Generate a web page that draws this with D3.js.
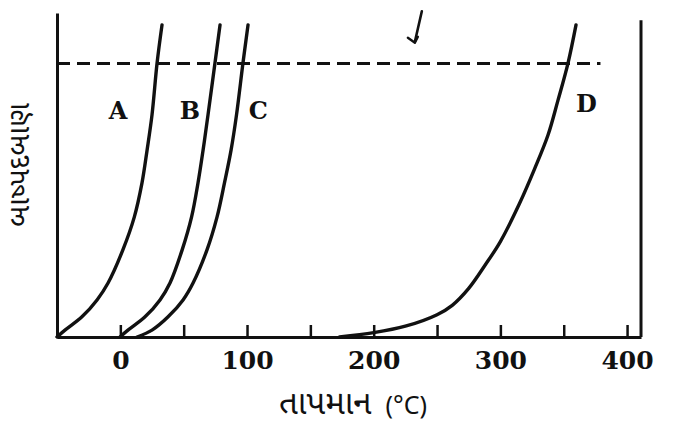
<!DOCTYPE html>
<html>
<head>
<meta charset="utf-8">
<script src="https://cdn.jsdelivr.net/npm/d3@7"></script>
<style>
  html, body { margin: 0; padding: 0; background: #fff; }
  svg { display: block; }
</style>
</head>
<body>
<svg id="chart" width="673" height="428"></svg>
<script>
// ---- data (temperature °C, vapour pressure in mm Hg) ----
const tempA = [-50, -43.7, -30.3, -18.4, -9.7, 2.0, 11.0, 17.1, 21.1, 25.0, 29.0, 32.9];
const presA = [0, 19, 56, 103, 150, 242, 333, 428, 519, 617, 761, 867];
const tempB = [-0.3, 6.0, 19.5, 31.3, 39.2, 48.8, 56.2, 61.3, 65.3, 69.2, 74.7, 78.7];
const presB = [0, 19, 56, 103, 150, 242, 333, 428, 519, 617, 761, 867];
const tempC = [13.2, 25.0, 37.7, 49.5, 57.4, 68.4, 76.3, 82.2, 87.4, 91.7, 96.8, 100.8];
const presC = [0, 19, 56, 103, 150, 242, 333, 428, 519, 617, 761, 867];
const tempD = [173, 200, 225, 250, 262, 275, 288, 300, 315, 327, 337.6, 345.5, 353.4, 359.7];
const presD = [0, 12, 30, 62, 88, 135, 200, 265, 370, 467, 561, 658, 761, 867];
const curveNames = ["A", "B", "C", "D"];
const xTicks = [0, 50, 100, 150, 200, 250, 300, 350, 400];
const xTickLabels = ["0", "", "100", "", "200", "", "300", "", "400"];
const atmPressure = 760;
const xTitleMain = "તાપમાન";
const xTitleUnit = "(°C)";
const yTitle = "બાષ્પદબાણ";

const series = [
  { name: curveNames[0], t: tempA, p: presA, lx: -1.8, ly: 630 },
  { name: curveNames[1], t: tempB, p: presB, lx: 55,   ly: 630 },
  { name: curveNames[2], t: tempC, p: presC, lx: 109,  ly: 630 },
  { name: curveNames[3], t: tempD, p: presD, lx: 368,  ly: 650 }
];

const svg = d3.select("#chart");
const x = d3.scaleLinear().domain([-50, 411]).range([57, 641]);
const y = d3.scaleLinear().domain([0, 900]).range([337, 13]);

const ink = "#111";

// bottom axis with inward ticks
const xAxis = d3.axisBottom(x)
  .tickValues(xTicks)
  .tickFormat((d, i) => xTickLabels[i])
  .tickSizeInner(-12)
  .tickSizeOuter(0)
  .tickPadding(14);
const gx = svg.append("g").attr("transform", `translate(0,${y(0)})`).call(xAxis);
gx.select(".domain").attr("stroke", ink).attr("stroke-width", 3);
gx.selectAll(".tick line").attr("stroke", ink).attr("stroke-width", 2.5);
gx.selectAll(".tick text")
  .attr("fill", ink)
  .style("font-family", "'DejaVu Serif', serif")
  .style("font-weight", "bold")
  .style("font-size", "25px");

// left axis (line only)
const yAxis = d3.axisLeft(y).tickValues([]).tickSizeOuter(0);
const gy = svg.append("g").attr("transform", `translate(${x(-50)},0)`).call(yAxis);
gy.select(".domain").attr("stroke", ink).attr("stroke-width", 3);

// right frame line
svg.append("line")
  .attr("x1", x(411)).attr("x2", x(411))
  .attr("y1", y(880)).attr("y2", y(0))
  .attr("stroke", ink).attr("stroke-width", 3);

// dashed 1 atm line
svg.append("line")
  .attr("x1", x(-50)).attr("x2", x(379))
  .attr("y1", y(atmPressure)).attr("y2", y(atmPressure))
  .attr("stroke", ink).attr("stroke-width", 3)
  .attr("stroke-dasharray", "13,7");

// curves
const line = d3.line()
  .x(d => x(d[0]))
  .y(d => y(d[1]))
  .curve(d3.curveCatmullRom.alpha(0.5));

series.forEach(s => {
  const pts = s.t.map((t, i) => [t, s.p[i]]);
  svg.append("path")
    .datum(pts)
    .attr("d", line)
    .attr("fill", "none")
    .attr("stroke", ink)
    .attr("stroke-width", 3.4)
    .attr("stroke-linecap", "round");
  svg.append("text")
    .attr("x", x(s.lx))
    .attr("y", y(s.ly))
    .attr("text-anchor", "middle")
    .attr("dominant-baseline", "central")
    .attr("fill", ink)
    .style("font-family", "'DejaVu Serif', serif")
    .style("font-weight", "bold")
    .style("font-size", "24px")
    .text(s.name);
});

// arrow pointing down to the dashed line (label above is cut off)
const ax = x(238), ay = y(905), bx = x(232.5), by = y(820);
svg.append("line")
  .attr("x1", ax).attr("y1", ay).attr("x2", bx).attr("y2", by)
  .attr("stroke", ink).attr("stroke-width", 2.6).attr("stroke-linecap", "round");
svg.append("path")
  .attr("d", `M${bx - 7},${by - 4} L${bx},${by + 1} L${bx + 3},${by - 5}`)
  .attr("fill", "none").attr("stroke", ink).attr("stroke-width", 2.4)
  .attr("stroke-linejoin", "round").attr("stroke-linecap", "round");

// axis titles
const xt = svg.append("text")
  .attr("x", 353)
  .attr("y", 414)
  .attr("text-anchor", "middle")
  .attr("fill", ink)
  .style("font-family", "'Noto Sans Gujarati', 'Lohit Gujarati', 'Noto Sans', sans-serif");
xt.append("tspan").style("font-size", "33px").text(xTitleMain);
xt.append("tspan").style("font-size", "25px").attr("dx", 14).text(xTitleUnit);

svg.append("text")
  .attr("transform", `translate(29,${165}) rotate(-90)`)
  .attr("text-anchor", "middle")
  .attr("fill", ink)
  .style("font-family", "'Noto Sans Gujarati', 'Lohit Gujarati', 'Noto Sans', sans-serif")
  .style("font-size", "29px")
  .text(yTitle);
</script>
</body>
</html>
